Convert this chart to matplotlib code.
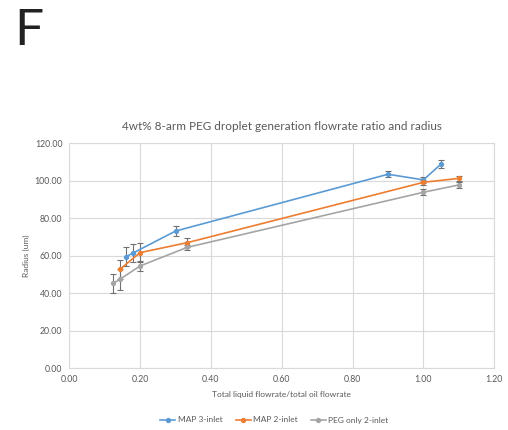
import matplotlib
matplotlib.use('Agg')
import matplotlib.pyplot as plt

# data
x_map3 = [0.16, 0.18, 0.30, 0.90, 1.00, 1.05]
y_map3 = [59.5, 61.5, 73.2, 103.5, 100.5, 109.0]
e_map3 = [5.0, 5.0, 2.5, 1.5, 1.5, 2.0]

x_map2 = [0.143, 0.20, 0.333, 1.00, 1.10]
y_map2 = [52.8, 61.7, 67.0, 99.2, 101.3]
e_map2 = [5.0, 5.0, 2.5, 1.5, 1.5]

x_peg = [0.124, 0.143, 0.20, 0.333, 1.00, 1.10]
y_peg = [45.3, 47.5, 54.6, 64.5, 93.9, 97.8]
e_peg = [5.0, 5.5, 2.5, 1.5, 1.5, 1.5]

labels = ['MAP 3-inlet', 'MAP 2-inlet', 'PEG only 2-inlet']
colors = ['#5b9bd5', '#ed7d31', '#a5a5a5']
xticks = [0.0, 0.2, 0.4, 0.6, 0.8, 1.0, 1.2]
yticks = [0, 20, 40, 60, 80, 100, 120]

plt.rcParams['font.family'] = ['Lato', 'DejaVu Sans']
txt = '#595959'

fig = plt.figure(figsize=(5.08, 4.30), dpi=100)
ax = fig.add_axes([0.1364, 0.1435, 0.973 - 0.1364, 0.6667 - 0.1435])

series = [(x_map3, y_map3, e_map3), (x_map2, y_map2, e_map2), (x_peg, y_peg, e_peg)]
for (xs, ys, es), lab, c in zip(series, labels, colors):
    ax.errorbar(xs, ys, yerr=es, fmt='none', ecolor='#707070', elinewidth=0.8,
                capsize=2, capthick=0.8, zorder=2)
    ax.plot(xs, ys, '-o', color=c, lw=1.2, ms=2.8, label=lab, zorder=3)

ax.set_xlim(0, 1.2)
ax.set_ylim(0, 120)
ax.set_xticks(xticks)
ax.set_yticks(yticks)
ax.set_xticklabels(['%.2f' % v for v in xticks])
ax.set_yticklabels(['%.2f' % v for v in yticks])
ax.tick_params(length=0, labelsize=6.3, labelcolor=txt, pad=5)
ax.grid(True, color='#d9d9d9', lw=0.8)
ax.set_axisbelow(True)
for s in ax.spines.values():
    s.set_color('#d9d9d9')
    s.set_linewidth(0.8)

ax.set_xlabel('Total liquid flowrate/total oil flowrate', fontsize=6, color=txt, labelpad=5)
ax.set_ylabel('Radius (um)', fontsize=6, color=txt, labelpad=3)

fig.text(0.555, 1 - 127 / 430, '4wt% 8-arm PEG droplet generation flowrate ratio and radius',
         ha='center', va='center', fontsize=8.5, color=txt)
fig.text(14 / 508, 1 - 31 / 430, 'F', ha='left', va='center', fontsize=37, color='#222222')

fig.legend(loc='center', bbox_to_anchor=(0.54, 1 - 420 / 430), ncol=3, frameon=False,
           fontsize=6, labelcolor=txt, handlelength=1.8, handletextpad=0.3,
           columnspacing=1.6)

fig.savefig('out.png', dpi=100)
